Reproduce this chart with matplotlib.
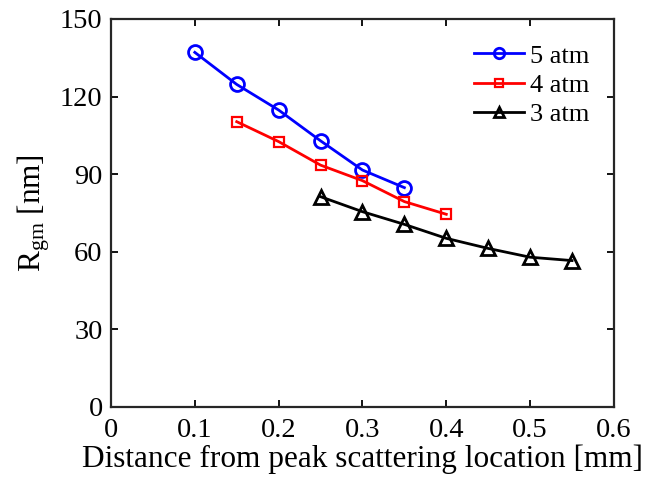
import numpy as np
import matplotlib
matplotlib.use("Agg")
import matplotlib.pyplot as plt

plt.rcParams['font.family'] = ['Liberation Serif', 'DejaVu Serif']
plt.rcParams['mathtext.fontset'] = 'custom'
plt.rcParams['mathtext.rm'] = 'Liberation Serif'
plt.rcParams['mathtext.it'] = 'Liberation Serif:italic'

# data
x_5atm = [0.10, 0.15, 0.20, 0.25, 0.30, 0.35]
r_5atm = [137.1, 124.7, 114.8, 102.9, 91.6, 84.8]
x_4atm = [0.15, 0.20, 0.25, 0.30, 0.35, 0.40]
r_4atm = [110.3, 102.6, 93.5, 87.5, 79.4, 74.5]
x_3atm = [0.25, 0.30, 0.35, 0.40, 0.45, 0.50, 0.55]
r_3atm = [81.3, 75.5, 70.6, 65.2, 61.3, 57.9, 56.6]

fig = plt.figure(figsize=(6.49, 4.92), dpi=100)
ax = fig.add_axes([0.171, 0.1728, 0.775, 0.7886])

ax.plot(x_5atm, r_5atm, '-o', color='#0000ff', lw=2, ms=10, mfc='none', mew=2, label='5 atm')
ax.plot(x_4atm, r_4atm, '-s', color='#ff0000', lw=2, ms=7.5, mfc='none', mew=1.6, label='4 atm')
ax.plot(x_3atm, r_3atm, '-^', color='k', lw=2, ms=10.5, mfc='none', mew=2, label='3 atm')

ax.set_xlim(0, 0.6)
ax.set_ylim(0, 150)
ax.set_xticks(np.arange(0, 0.61, 0.1))
ax.set_xticklabels(['0', '0.1', '0.2', '0.3', '0.4', '0.5', '0.6'])
ax.set_yticks(np.arange(0, 151, 30))
ax.tick_params(direction='in', top=True, right=True, length=5, width=1.3, labelsize=20.5)
ax.tick_params(axis='y', pad=6)
ax.tick_params(axis='x', pad=8)
for s in ax.spines.values():
    s.set_linewidth(1.6)
    s.set_color('#262626')

ax.set_xlabel('Distance from peak scattering location [mm]', fontsize=22.5, labelpad=1)
ax.set_ylabel(r'R$_{\mathrm{gm}}$ [nm]', fontsize=22.5, labelpad=6)

ax.legend(loc='upper right', frameon=False, fontsize=19, handlelength=1.9,
          handletextpad=0.2, labelspacing=0.22, borderaxespad=0.55, markerscale=0.75)

fig.savefig('out.png', dpi=100)
